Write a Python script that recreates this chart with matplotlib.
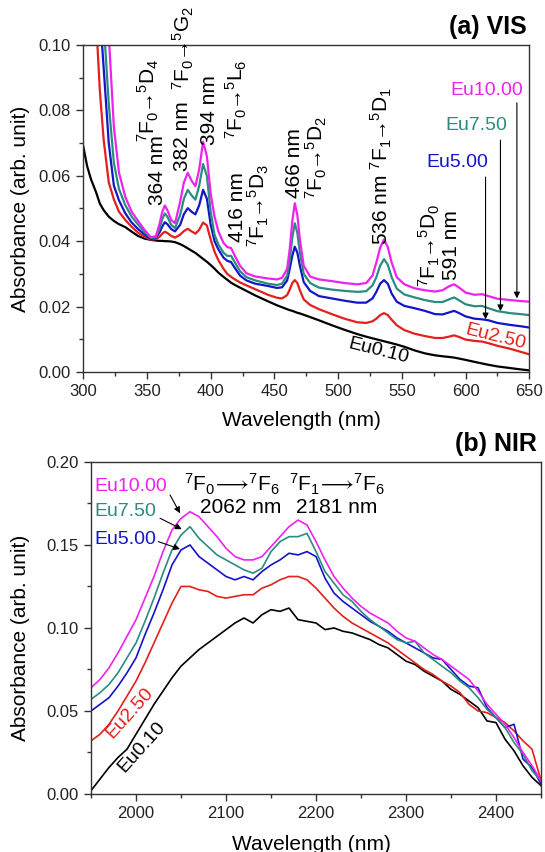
#!/usr/bin/env python3
"""
Absorption spectra of the Eu-doped samples, VIS panel (a) and NIR panel (b).
Writes out.png (545 x 852 px).
"""

import matplotlib
matplotlib.use('Agg')
import matplotlib.pyplot as plt
from matplotlib.ticker import MultipleLocator, FormatStrFormatter

plt.rcParams['font.family'] = ['Liberation Sans', 'DejaVu Sans']
plt.rcParams['mathtext.fontset'] = 'custom'
plt.rcParams['mathtext.rm'] = 'Liberation Sans'
plt.rcParams['mathtext.it'] = 'Liberation Sans:italic'
plt.rcParams['mathtext.bf'] = 'Liberation Sans:bold'
plt.rcParams['mathtext.fallback'] = 'stixsans'

# ---------------------------------------------------------------- data
SAMPLES = ['Eu0.10', 'Eu2.50', 'Eu5.00', 'Eu7.50', 'Eu10.00']
COLORS = ['#000000', '#e3201b', '#1414c8', '#2a8c80', '#ee22ee']

# (a) VIS absorbance
wl_vis = [300, 303, 306, 310, 313, 316, 320, 324, 328, 333,
          338, 343, 348, 353, 357, 360, 362, 364, 366, 369,
          372, 376, 379, 382, 385, 388, 391, 394, 397, 400,
          403, 406, 410, 413, 416, 419, 423, 428, 435, 445,
          452, 456, 460, 462, 464, 466, 468, 470, 473, 478,
          485, 495, 505, 515, 522, 527, 530, 533, 536, 539,
          542, 546, 552, 560, 568, 576, 582, 587, 591, 595,
          600, 607, 613, 618, 625, 635, 643, 650]

vis_eu010 = [0.069, 0.063, 0.059, 0.055, 0.0515, 0.0495, 0.0475, 0.0462, 0.0452, 0.0443,
             0.0429, 0.0416, 0.0408, 0.0404, 0.0402, 0.0401, 0.0401, 0.0400, 0.0400, 0.0399,
             0.0397, 0.0391, 0.0385, 0.0378, 0.0371, 0.0364, 0.0355, 0.0346, 0.0337, 0.0327,
             0.0316, 0.0304, 0.0291, 0.0282, 0.0273, 0.0266, 0.0258, 0.0248, 0.0234, 0.0216,
             0.0204, 0.0198, 0.0192, 0.0189, 0.0187, 0.0184, 0.0181, 0.0179, 0.0175, 0.0168,
             0.0158, 0.0143, 0.0129, 0.0116, 0.0108, 0.0103, 0.0100, 0.0097, 0.0094, 0.0091,
             0.0088, 0.0084, 0.0077, 0.0066, 0.0057, 0.0051, 0.0048, 0.0046, 0.0044, 0.0041,
             0.0037, 0.0031, 0.0026, 0.0022, 0.0017, 0.0012, 0.0008, 0.0005]

vis_eu250 = [0.20, 0.17, 0.14, 0.108, 0.086, 0.071, 0.058, 0.0528, 0.049, 0.0465,
             0.0444, 0.0426, 0.0414, 0.0405, 0.0406, 0.0414, 0.0423, 0.0429, 0.0425, 0.0416,
             0.0411, 0.0420, 0.0431, 0.0438, 0.0430, 0.0423, 0.0435, 0.0457, 0.0448, 0.0405,
             0.0368, 0.0342, 0.0316, 0.0300, 0.0291, 0.0283, 0.0274, 0.0265, 0.0253, 0.0236,
             0.0227, 0.0225, 0.0235, 0.0252, 0.0272, 0.0281, 0.0272, 0.0250, 0.0222, 0.0205,
             0.0192, 0.0177, 0.0163, 0.0152, 0.0150, 0.0155, 0.0163, 0.0174, 0.0180, 0.0174,
             0.0160, 0.0143, 0.0128, 0.0117, 0.0110, 0.0104, 0.0104, 0.0108, 0.0112, 0.0107,
             0.0099, 0.0095, 0.0093, 0.0088, 0.0080, 0.0071, 0.0062, 0.0054]

vis_eu500 = [0.25, 0.21, 0.17, 0.13, 0.11, 0.093, 0.070, 0.057, 0.0525, 0.0485,
             0.0457, 0.0437, 0.0421, 0.0407, 0.0410, 0.0428, 0.0445, 0.0458, 0.0452, 0.0437,
             0.0430, 0.0450, 0.0483, 0.0501, 0.0490, 0.0482, 0.0510, 0.0557, 0.0530, 0.0450,
             0.0400, 0.0375, 0.0350, 0.0340, 0.0336, 0.0318, 0.0295, 0.0280, 0.0270, 0.0263,
             0.0257, 0.0259, 0.0280, 0.0315, 0.0355, 0.0383, 0.0365, 0.0325, 0.0275, 0.0248,
             0.0232, 0.0225, 0.0218, 0.0212, 0.0212, 0.0225, 0.0245, 0.0270, 0.0281, 0.0270,
             0.0240, 0.0215, 0.0202, 0.0195, 0.0187, 0.0177, 0.0176, 0.0182, 0.0187, 0.0180,
             0.0170, 0.0163, 0.0161, 0.0158, 0.0150, 0.0144, 0.0140, 0.0136]

vis_eu750 = [0.28, 0.24, 0.20, 0.15, 0.125, 0.107, 0.082, 0.064, 0.056, 0.051,
             0.0475, 0.0451, 0.0428, 0.0410, 0.0412, 0.0440, 0.0468, 0.0485, 0.0475, 0.0450,
             0.0440, 0.0480, 0.0530, 0.0557, 0.0540, 0.0527, 0.0570, 0.0636, 0.0600, 0.0490,
             0.0420, 0.0390, 0.0365, 0.0355, 0.0355, 0.0335, 0.0308, 0.0290, 0.0280, 0.0270,
             0.0266, 0.0270, 0.0295, 0.0340, 0.0410, 0.0455, 0.0425, 0.0365, 0.0300, 0.0272,
             0.0258, 0.0252, 0.0248, 0.0245, 0.0247, 0.0265, 0.0290, 0.0325, 0.0345, 0.0328,
             0.0290, 0.0255, 0.0237, 0.0228, 0.0220, 0.0214, 0.0214, 0.0222, 0.0228, 0.0219,
             0.0207, 0.0201, 0.0202, 0.0195, 0.0186, 0.0180, 0.0177, 0.0174]

vis_eu1000 = [0.32, 0.28, 0.23, 0.17, 0.14, 0.125, 0.103, 0.075, 0.061, 0.0535,
              0.0490, 0.0462, 0.0435, 0.0412, 0.0415, 0.0455, 0.0490, 0.0509, 0.0495, 0.0465,
              0.0455, 0.0520, 0.0580, 0.0609, 0.0585, 0.0568, 0.0620, 0.0704, 0.0660, 0.0545,
              0.0475, 0.0430, 0.0395, 0.0382, 0.0379, 0.0355, 0.0325, 0.0302, 0.0292, 0.0286,
              0.0283, 0.0288, 0.0315, 0.0375, 0.0460, 0.0516, 0.0480, 0.0405, 0.0325, 0.0292,
              0.0283, 0.0278, 0.0272, 0.0268, 0.0272, 0.0295, 0.0335, 0.0380, 0.0405, 0.0382,
              0.0335, 0.0290, 0.0268, 0.0256, 0.0250, 0.0246, 0.0250, 0.0262, 0.0268, 0.0258,
              0.0243, 0.0236, 0.0238, 0.0232, 0.0224, 0.0220, 0.0217, 0.0215]

# (b) NIR absorbance
wl_nir = [1950, 1960, 1970, 1980, 1990, 2000, 2010, 2020, 2030, 2040,
          2050, 2060, 2070, 2080, 2090, 2100, 2110, 2120, 2130, 2140,
          2150, 2160, 2170, 2180, 2190, 2200, 2210, 2220, 2230, 2240,
          2250, 2260, 2270, 2280, 2290, 2300, 2310, 2320, 2330, 2340,
          2350, 2360, 2370, 2380, 2390, 2400, 2410, 2420, 2430, 2440,
          2450]

nir_eu010 = [0.002, 0.009, 0.016, 0.022, 0.027, 0.036, 0.045, 0.054, 0.062, 0.070,
             0.077, 0.082, 0.087, 0.091, 0.095, 0.099, 0.103, 0.106, 0.103, 0.108,
             0.111, 0.110, 0.112, 0.105, 0.104, 0.103, 0.099, 0.100, 0.098, 0.097,
             0.095, 0.093, 0.090, 0.088, 0.084, 0.080, 0.078, 0.074, 0.071, 0.068,
             0.063, 0.060, 0.056, 0.052, 0.044, 0.043, 0.033, 0.026, 0.017, 0.010,
             0.005]

nir_eu250 = [0.032, 0.036, 0.042, 0.050, 0.059, 0.068, 0.079, 0.091, 0.103, 0.115,
             0.125, 0.125, 0.123, 0.122, 0.119, 0.118, 0.119, 0.120, 0.120, 0.124,
             0.126, 0.129, 0.131, 0.131, 0.129, 0.124, 0.118, 0.112, 0.107, 0.103,
             0.100, 0.097, 0.094, 0.091, 0.087, 0.083, 0.079, 0.075, 0.072, 0.068,
             0.065, 0.061, 0.054, 0.050, 0.049, 0.046, 0.043, 0.038, 0.032, 0.027,
             0.008]

nir_eu500 = [0.050, 0.054, 0.058, 0.065, 0.073, 0.082, 0.096, 0.109, 0.123, 0.138,
             0.147, 0.150, 0.143, 0.139, 0.135, 0.131, 0.129, 0.131, 0.129, 0.134,
             0.138, 0.141, 0.145, 0.144, 0.146, 0.143, 0.130, 0.121, 0.116, 0.112,
             0.108, 0.104, 0.101, 0.098, 0.094, 0.091, 0.088, 0.085, 0.082, 0.081,
             0.075, 0.069, 0.065, 0.064, 0.052, 0.046, 0.040, 0.042, 0.021, 0.016,
             0.006]

nir_eu750 = [0.057, 0.061, 0.066, 0.073, 0.082, 0.091, 0.104, 0.118, 0.133, 0.147,
             0.156, 0.161, 0.154, 0.149, 0.144, 0.141, 0.138, 0.135, 0.133, 0.136,
             0.146, 0.152, 0.155, 0.155, 0.157, 0.146, 0.134, 0.127, 0.120, 0.116,
             0.110, 0.105, 0.101, 0.097, 0.093, 0.091, 0.092, 0.085, 0.081, 0.077,
             0.073, 0.068, 0.064, 0.058, 0.051, 0.046, 0.040, 0.031, 0.024, 0.014,
             0.008]

nir_eu1000 = [0.064, 0.069, 0.076, 0.085, 0.095, 0.105, 0.118, 0.131, 0.146, 0.159,
              0.166, 0.170, 0.167, 0.161, 0.155, 0.148, 0.143, 0.141, 0.141, 0.143,
              0.149, 0.155, 0.161, 0.165, 0.162, 0.152, 0.141, 0.131, 0.124, 0.118,
              0.113, 0.109, 0.106, 0.103, 0.098, 0.094, 0.092, 0.088, 0.084, 0.081,
              0.077, 0.073, 0.069, 0.062, 0.054, 0.048, 0.042, 0.034, 0.025, 0.017,
              0.008]

VIS_SERIES = [vis_eu010, vis_eu250, vis_eu500, vis_eu750, vis_eu1000]
NIR_SERIES = [nir_eu010, nir_eu250, nir_eu500, nir_eu750, nir_eu1000]

SPINE_COLOR = '#333333'


def transition(a, b, c, d, arrow=r'\rightarrow', gap=r'\hspace{-0.26}'):
    """Term-symbol label like 7F0 -> 5D4."""
    return (r'$^{%s}$F$_{%s}%s%s%s{}^{%s}$%s' % (a, b, gap, arrow, gap, c, d[0])
            + r'$_{%s}$' % d[1])


def style_axes(ax, xmajor, xminor, ymajor, yminor):
    """Outward ticks on left/bottom only, thin dark frame."""
    ax.xaxis.set_major_locator(MultipleLocator(xmajor))
    ax.xaxis.set_minor_locator(MultipleLocator(xminor))
    ax.yaxis.set_major_locator(MultipleLocator(ymajor))
    ax.yaxis.set_minor_locator(MultipleLocator(yminor))
    ax.yaxis.set_major_formatter(FormatStrFormatter('%.2f'))
    ax.tick_params(which='both', direction='out', top=False, right=False,
                   color=SPINE_COLOR, width=1.0, labelsize=12, labelcolor='#222222')
    ax.tick_params(which='major', length=5, pad=4)
    ax.tick_params(which='minor', length=3)
    for sp in ax.spines.values():
        sp.set_color(SPINE_COLOR)
        sp.set_linewidth(1.0)


def draw_vis(ax):
    for y, c in zip(VIS_SERIES, COLORS):
        ax.plot(wl_vis, y, color=c, lw=1.6)
    ax.set_xlim(300, 650)
    ax.set_ylim(0, 0.10)
    style_axes(ax, 50, 25, 0.02, 0.01)
    ax.set_xlabel('Wavelength (nm)', fontsize=15)
    ax.set_ylabel('Absorbance (arb. unit)', fontsize=15)
    ax.xaxis.set_label_coords(0.49, -0.118)
    ax.yaxis.set_label_coords(-0.12, 0.5)
    ax.text(0.995, 1.054, '(a) VIS', transform=ax.transAxes, ha='right',
            va='center', fontsize=18, fontweight='bold')

    # rotated peak / transition labels
    vert = [
        ('364 nm', 358.6, 0.0618),
        (transition(7, 0, 5, 'D4'), 351.2, 0.0830),
        ('382 nm', 377.8, 0.0720),
        (transition(7, 0, 5, 'G2'), 378.2, 0.0990),
        ('394 nm', 399.4, 0.0801),
        (transition(7, 0, 5, 'L6'), 419.8, 0.0835),
        ('416 nm', 421.2, 0.0505),
        (transition(7, 1, 5, 'D3'), 437.5, 0.0508),
        ('466 nm', 465.7, 0.0638),
        (transition(7, 0, 5, 'D2'), 482.6, 0.0656),
        ('536 nm ' + transition(7, 1, 5, 'D1'), 534.2, 0.0630),
        (transition(7, 1, 5, 'D0'), 571.3, 0.0388),
        ('591 nm', 588.9, 0.0387),
    ]
    for txt, x, y in vert:
        ax.text(x, y, txt, rotation=90, ha='center', va='center', fontsize=15)

    # sample labels with pointer lines
    pointers = [
        ('Eu10.00', COLORS[4], 616.5, 0.0862, 640.3, 0.0823, 0.0225),
        ('Eu7.50', COLORS[3], 608.2, 0.0755, 627.4, 0.0709, 0.0186),
        ('Eu5.00', COLORS[2], 593.3, 0.0642, 615.7, 0.0596, 0.0161),
    ]
    for name, c, tx, ty, lx, ytop, ytip in pointers:
        ax.text(tx, ty, name, color=c, fontsize=14, ha='center', va='center')
        ax.annotate('', xy=(lx, ytip), xytext=(lx, ytop),
                    arrowprops=dict(arrowstyle='-|>', color='black', lw=0.8,
                                    mutation_scale=9, shrinkA=0, shrinkB=0))
    ax.text(623.8, 0.0106, 'Eu2.50', color=COLORS[1], fontsize=14, rotation=-14,
            ha='center', va='center', rotation_mode='anchor')
    ax.text(531.4, 0.0064, 'Eu0.10', color=COLORS[0], fontsize=14, rotation=-14,
            ha='center', va='center', rotation_mode='anchor')


def draw_nir(ax):
    for y, c in zip(NIR_SERIES, COLORS):
        ax.plot(wl_nir, y, color=c, lw=1.2)
    ax.set_xlim(1950, 2450)
    ax.set_ylim(0, 0.20)
    style_axes(ax, 100, 50, 0.05, 0.025)
    ax.set_xlabel('Wavelength (nm)', fontsize=15)
    ax.set_ylabel('Absorbance (arb. unit)', fontsize=15)
    ax.xaxis.set_label_coords(0.49, -0.125)
    ax.yaxis.set_label_coords(-0.136, 0.47)
    ax.text(0.991, 1.054, '(b) NIR', transform=ax.transAxes, ha='right',
            va='center', fontsize=18, fontweight='bold')

    nir_gap = r'\!'
    ax.text(2106.0, 0.1867, transition(7, 0, 7, 'F6', r'\longrightarrow', nir_gap),
            fontsize=15, ha='center', va='center')
    ax.text(2116.5, 0.1726, '2062 nm', fontsize=15, ha='center', va='center')
    ax.text(2223.0, 0.1867, transition(7, 1, 7, 'F6', r'\longrightarrow', nir_gap),
            fontsize=15, ha='center', va='center')
    ax.text(2222.8, 0.1726, '2181 nm', fontsize=15, ha='center', va='center')

    pointers = [
        ('Eu10.00', COLORS[4], 0.1851, (2037.8, 0.1801), (2048.9, 0.1691)),
        ('Eu7.50', COLORS[3], 0.1701, (2026.7, 0.1661), (2050.8, 0.1595)),
        ('Eu5.00', COLORS[2], 0.1533, (2024.8, 0.1520), (2048.9, 0.1475)),
    ]
    for name, c, ty, start, tip in pointers:
        ax.text(1953.5, ty, name, color=c, fontsize=14, ha='left', va='center')
        ax.annotate('', xy=tip, xytext=start,
                    arrowprops=dict(arrowstyle='-|>', color='black', lw=0.8,
                                    mutation_scale=9, shrinkA=0, shrinkB=0))
    ax.text(1993.0, 0.0486, 'Eu2.50', color=COLORS[1], fontsize=14, rotation=48,
            ha='center', va='center', rotation_mode='anchor')
    ax.text(2006.0, 0.0280, 'Eu0.10', color=COLORS[0], fontsize=14, rotation=48,
            ha='center', va='center', rotation_mode='anchor')


def main() -> None:
    fig = plt.figure(figsize=(5.45, 8.52), dpi=100)
    ax_vis = fig.add_axes([0.1528, 0.5634, 0.8183, 0.3838])
    ax_nir = fig.add_axes([0.1670, 0.0681, 0.8257, 0.3897])
    draw_vis(ax_vis)
    draw_nir(ax_nir)
    fig.savefig('out.png', dpi=100)
    plt.close(fig)


if __name__ == '__main__':
    main()
